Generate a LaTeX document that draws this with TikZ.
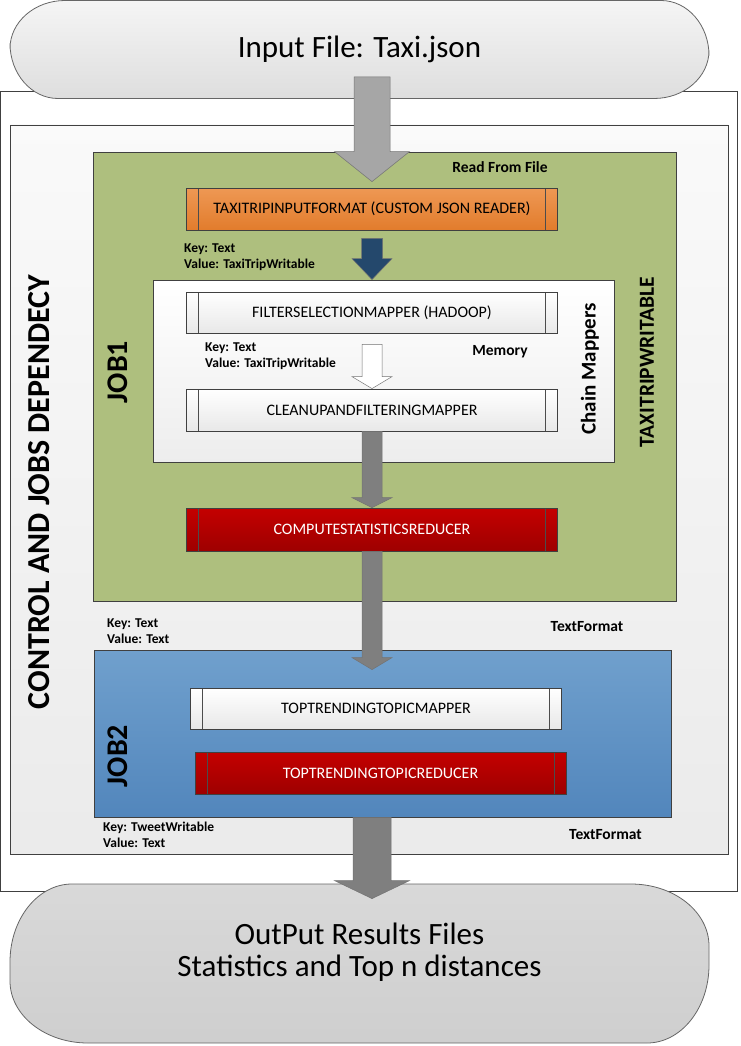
\documentclass[tikz,border=0pt]{standalone}
\usepackage{fontspec}
\setmainfont{Carlito}
\usetikzlibrary{calc}

\definecolor{jobgreen}{RGB}{174,191,126}
\definecolor{jobbluetop}{RGB}{112,160,205}
\definecolor{jobbluebot}{RGB}{82,134,188}
\definecolor{orangetop}{RGB}{238,152,84}
\definecolor{orangebot}{RGB}{226,124,44}
\definecolor{redtop}{RGB}{196,0,0}
\definecolor{redbot}{RGB}{158,0,0}
\definecolor{flowblue}{RGB}{36,72,108}
\definecolor{flowgray}{RGB}{127,127,127}
\definecolor{flowlight}{RGB}{166,166,166}

\begin{document}
\begin{tikzpicture}[x=1pt,y=-1pt,
	frame/.style={draw=black!75,line width=0.8pt,inner sep=0pt},
	ellcorners/.code 2 args={\pgfsetcornersarced{\pgfpoint{#1}{#2}}},
	terminal/.style={frame,draw=black!60,minimum width=699pt,align=center,font=\fontsize{31}{32}\selectfont},
	procbox/.style={frame,minimum width=371pt,minimum height=42pt,font=\fontsize{16}{18}\selectfont,
		path picture={\draw[black!70,line width=0.6pt]
			([xshift=12pt]path picture bounding box.north west) -- ([xshift=12pt]path picture bounding box.south west)
			([xshift=-12pt]path picture bounding box.north east) -- ([xshift=-12pt]path picture bounding box.south east);}},
	mapperbox/.style={procbox,top color=white,bottom color=black!9},
	readerbox/.style={procbox,top color=orangetop,bottom color=orangebot},
	reducerbox/.style={procbox,top color=redtop,bottom color=redbot,text=white},
	keyval/.style={inner sep=0pt,anchor=west,align=left,font=\bfseries\fontsize{13.5}{16}\selectfont},
	tag/.style={inner sep=0pt,font=\bfseries\fontsize{15.5}{18}\selectfont},
	sidetitle/.style={inner sep=0pt,rotate=90,font=\bfseries\fontsize{#1}{#1}\selectfont},
	fat/.style n args={3}{draw=black!55,line width=0.5pt,
		to path={let \p1=(\tikztostart), \p2=(\tikztotarget) in
			(\x1-#1,\y1) -- (\x1+#1,\y1) -- (\x1+#1,\y2+#3) -- (\x1+#2,\y2+#3) -- (\x1,\y2)
			-- (\x1-#2,\y2+#3) -- (\x1-#1,\y2+#3) -- cycle}}]
	\useasboundingbox (0,0) rectangle (740,1046);

	% containers
	\node[frame,fill=white,minimum width=736.5pt,minimum height=800pt] (control) at (368.75,491) {};
	\node[frame,top color=black!2,bottom color=black!8,minimum width=717.5pt,minimum height=729pt] (jobs) at (369.25,489.5) {};
	\node[frame,fill=jobgreen,minimum width=583pt,minimum height=449pt] (job1) at (384.5,376.5) {};
	\node[frame,top color=jobbluetop,bottom color=jobbluebot,minimum width=577pt,minimum height=167pt] (job2) at (382.5,733.5) {};
	\node[frame,top color=white,bottom color=black!7,minimum width=461pt,minimum height=182pt] (chain) at (383.5,371) {};

	% job 1
	\node[readerbox] (reader) at (372,209) {TAXITRIPINPUTFORMAT (CUSTOM JSON READER)};
	\node[mapperbox,minimum height=41pt] (filter) at (372,312.5) {FILTERSELECTIONMAPPER (HADOOP)};
	\node[mapperbox] (cleanup) at (372,410) {CLEANUPANDFILTERINGMAPPER};
	\node[reducerbox,minimum height=43pt] (statreducer) at (372,529.5) {COMPUTESTATISTICSREDUCER};

	% job 2
	\node[mapperbox,minimum height=41pt] (topmapper) at (376,708.5) {TOPTRENDINGTOPICMAPPER};
	\node[reducerbox] (topreducer) at (380.5,773) {TOPTRENDINGTOPICREDUCER};

	% labels
	\node[tag] (readlbl) at (500,167) {Read From File};
	\node[keyval] (kv1) at (184,257.5) {Key: Text\\Value: TaxiTripWritable};
	\node[keyval] (kv2) at (205,356.5) {Key: Text\\Value: TaxiTripWritable};
	\node[tag] (memlbl) at (500,352) {Memory};
	\node[keyval] (kv3) at (107,631) {Key: Text\\Value: Text};
	\node[tag] (fmt1) at (587,627) {TextFormat};
	\node[keyval] (kv4) at (103,834.5) {Key: TweetWritable\\Value: Text};
	\node[tag] (fmt2) at (605.5,835) {TextFormat};
	\node[sidetitle=30] (job1lbl) at (118,372) {JOB1};
	\node[sidetitle=30] (job2lbl) at (118,756) {JOB2};
	\node[sidetitle=32] (controllbl) at (39,492) {CONTROL AND JOBS DEPENDECY};
	\node[sidetitle=21] (chainlbl) at (590,369) {Chain Mappers};
	\node[sidetitle=21.5] (writablelbl) at (647,362) {TAXITRIPWRITABLE};

	% input and output
	\node[terminal,ellcorners={55pt}{48pt},minimum height=98pt,top color=black!4,bottom color=black!13] (input) at (359.5,49.5) {Input File: Taxi.json};
	\node[terminal,ellcorners={62pt}{78pt},minimum height=159pt,top color=black!15,bottom color=black!19] (output) at (359.5,963.5) {};
	\node[inner sep=0pt,align=center,font=\fontsize{31}{32}\selectfont] (outtext) at (359.5,952) {OutPut Results Files\\Statistics and Top n distances};

	% flow
	\coordinate (inputout) at ($(input.south -| reader.north)+(0,-22)$);
	\coordinate (job2out) at (job2.south -| statreducer.south);
	\draw[fat={18pt}{37.5pt}{30pt},fill=flowlight] (inputout) to ($(reader.north)+(0,-6)$);
	\draw[fat={10.5pt}{20pt}{21pt},fill=flowblue] ($(reader.south)+(0,8)$) to (chain.north);
	\draw[fat={10pt}{20pt}{12pt},fill=white] ($(filter.south)+(0,11)$) to (cleanup.north);
	\draw[fat={10pt}{20pt}{10pt},fill=flowgray] (cleanup.south) to (statreducer.north);
	\draw[fat={10pt}{20pt}{12pt},fill=flowgray] (statreducer.south) to ($(job2.north -| statreducer.south)+(0,20)$);
	\draw[fat={19pt}{37.5pt}{18pt},fill=flowgray] (job2out) to ($(output.north -| statreducer.south)+(0,15)$);
\end{tikzpicture}
\end{document}
